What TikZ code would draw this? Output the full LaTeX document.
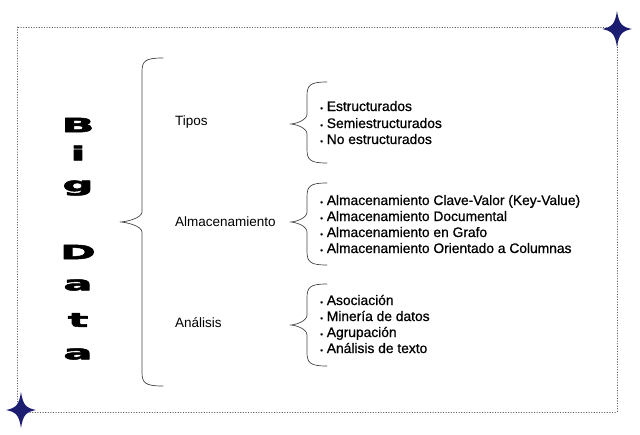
\documentclass[tikz,border=0pt]{standalone}
\usepackage{fontspec}
\setmainfont{Liberation Sans}
\newfontfamily\negra[BoldFeatures={FakeBold=2.5}]{DejaVu Sans}
\newfontfamily\lista[FakeBold=0.8]{Liberation Sans}
\definecolor{estrella}{RGB}{28,28,112}
\definecolor{llavegris}{RGB}{70,70,70}
% llave: x de la punta, x de la linea, x de los extremos, y arriba, y punta, y abajo
\newcommand\llave[6]{%
  \draw[llavegris,line width=0.7pt] (#3,#4) .. controls (#2+3,#4) and (#2,#4+3) .. (#2,#4+14)
    -- (#2,#5-10) .. controls (#2,#5-4) and (#1+6,#5) .. (#1,#5)
    .. controls (#1+6,#5) and (#2,#5+4) .. (#2,#5+10)
    -- (#2,#6-14) .. controls (#2,#6-3) and (#2+3,#6) .. (#3,#6);}
\newcommand\estrella[2]{%
  \fill[estrella] (#1,#2-18) .. controls (#1+2,#2-5) and (#1+5,#2-2) .. (#1+15,#2)
    .. controls (#1+5,#2+2) and (#1+2,#2+5) .. (#1,#2+18)
    .. controls (#1-2,#2+5) and (#1-5,#2+2) .. (#1-15,#2)
    .. controls (#1-5,#2-2) and (#1-2,#2-5) .. cycle;}
\begin{document}
\begin{tikzpicture}[x=1pt,y=-1pt,line join=round,line cap=round,
  font=\fontsize{13.5}{16}\selectfont,
  letra/.style={font=\negra\bfseries\fontsize{19.5}{19.5}\selectfont,inner sep=0pt},
  rama/.style={anchor=west,inner sep=0pt},
  item/.style={anchor=base west,inner sep=0pt,font=\lista\fontsize{13.8}{16}\selectfont}]
	\useasboundingbox (0,0) rectangle (640,434);
	% marco punteado
	\draw[dotted,gray!70!black,line width=0.6pt] (17,27) rectangle (617,412);
	\estrella{617}{29}
	\estrella{21}{410}
	% Big Data en vertical
	\foreach \l/\y [count=\i] in {B/125,i/153,g/188,D/252,a/285,t/320,a/354}
		\node[letra] (bd\i) at (78,\y) {\scalebox{2.2}[1]{\l}};
	% llaves
	\llave{120}{142}{163}{58}{222}{386}
	\llave{290}{307}{327}{82}{124}{163}
	\llave{290}{307}{327}{183}{222}{265}
	\llave{290}{307}{327}{284}{325}{366}
	% ramas
	\node[rama] (tipos) at (175,122) {Tipos};
	\node[rama] (alma) at (175,222) {Almacenamiento};
	\node[rama] (anal) at (175,323) {Análisis};
	% elementos
	\foreach \t/\y [count=\i] in {Estructurados/111,Semiestructurados/128,No estructurados/144}
		\node[item] (tip\i) at (320,\y) {{\footnotesize•} \t};
	\foreach \t/\y [count=\i] in {Almacenamiento Clave-Valor (Key-Value)/205,Almacenamiento Documental/221,Almacenamiento en Grafo/237,Almacenamiento Orientado a Columnas/253}
		\node[item] (alm\i) at (320,\y) {{\footnotesize•} \t};
	\foreach \t/\y [count=\i] in {Asociación/305,Minería de datos/321,Agrupación/337,Análisis de texto/353}
		\node[item] (ana\i) at (320,\y) {{\footnotesize•} \t};
\end{tikzpicture}
\end{document}
